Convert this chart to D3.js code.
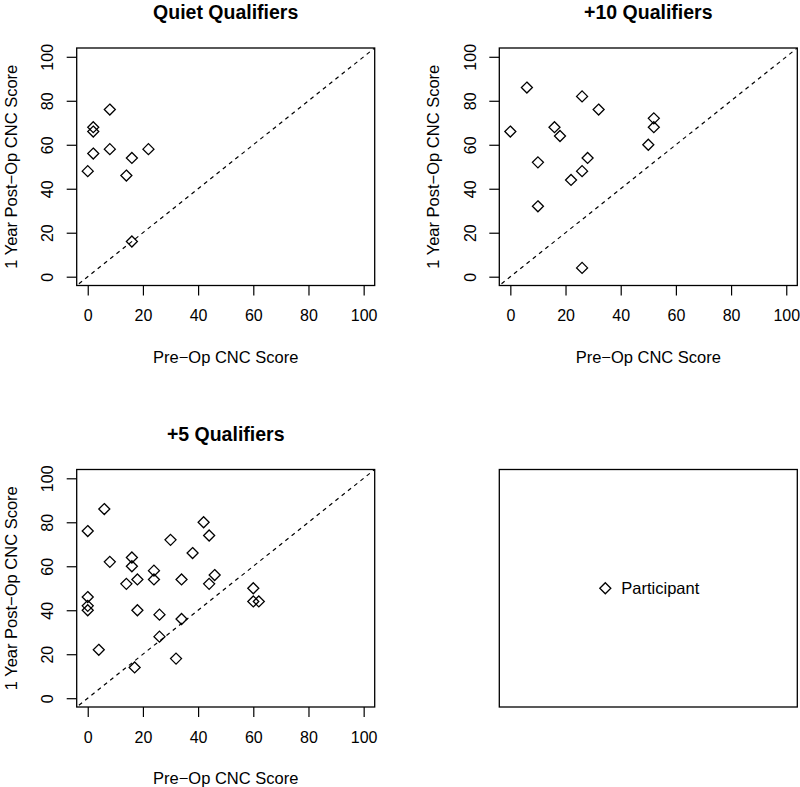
<!DOCTYPE html>
<html>
<head>
<meta charset="utf-8">
<script src="https://cdn.jsdelivr.net/npm/d3@7"></script>
<style>
  html, body { margin: 0; padding: 0; background: #fff; }
  text { font-family: "Liberation Sans", Arial, Helvetica, sans-serif; fill: #000; }
</style>
</head>
<body>
<svg id="chart" width="800" height="787"></svg>
<script>
// ---------------- data ----------------
const panelTitles = ["Quiet Qualifiers", "+10 Qualifiers", "+5 Qualifiers"];
const xAxisLabel = "Pre\u2212Op CNC Score";
const yAxisLabel = "1 Year Post\u2212Op CNC Score";
const tickValues = [0, 20, 40, 60, 80, 100];
const legendLabel = "Participant";

const quietPre  = [8, 2, 2, 2, 8, 0, 16, 22, 14, 16];
const quietPost = [76, 68, 66, 56, 58, 48, 54, 58, 46, 16];

const plus10Pre  = [0, 6, 10, 10, 16, 18, 22, 26, 26, 26, 28, 32, 50, 52, 52];
const plus10Post = [66, 86, 52, 32, 68, 64, 44, 82, 48, 4, 54, 76, 60, 72, 68];

const plus5Pre  = [6, 0, 42, 44, 30, 38, 8, 16, 16, 24, 24, 18, 14, 34, 46, 44, 60, 60, 62, 0, 0, 0, 18, 26, 34, 26, 4, 32, 17];
const plus5Post = [86, 76, 80, 74, 72, 66, 62, 64, 60, 58, 54, 54, 52, 54, 56, 52, 50, 44, 44, 46, 42, 40, 40, 38, 36, 28, 22, 18, 14];

const seriesPre  = [quietPre, plus10Pre, plus5Pre];
const seriesPost = [quietPost, plus10Post, plus5Post];

// ---------------- layout ----------------
const svg = d3.select("#chart");
const boxW = 298, boxH = 237.5;
const panelPos = [
  { left: 76.7, top: 48 },
  { left: 499.3, top: 48 },
  { left: 76.7, top: 469.5 }
];
const legendPos = { left: 499.3, top: 469.5 };
const tickFont = 16, labelFont = 16.5, titleFont = 19.5;

function diamondPath(cx, cy, r) {
  return `M${cx},${cy - r}L${cx + r},${cy}L${cx},${cy + r}L${cx - r},${cy}Z`;
}

panelPos.forEach((p, i) => {
  const g = svg.append("g");
  const x = d3.scaleLinear().domain([-4, 104]).range([p.left, p.left + boxW]);
  const y = d3.scaleLinear().domain([-4, 104]).range([p.top + boxH, p.top]);

  const clipId = "clip" + i;
  svg.append("clipPath").attr("id", clipId)
    .append("rect").attr("x", p.left).attr("y", p.top).attr("width", boxW).attr("height", boxH);

  // x axis
  const xa = g.append("g").attr("transform", `translate(0,${p.top + boxH})`)
    .call(d3.axisBottom(x).tickValues(tickValues).tickSize(10).tickFormat(d3.format("d")));
  xa.select(".domain").remove();
  xa.selectAll(".tick line").attr("stroke", "#000").attr("stroke-width", 1.2);
  xa.selectAll(".tick text").attr("font-size", tickFont).attr("fill", "#000")
    .attr("font-family", "Liberation Sans, Arial, sans-serif")
    .attr("y", 30).attr("dy", null).attr("dominant-baseline", "central");

  // y axis
  const ya = g.append("g").attr("transform", `translate(${p.left},0)`)
    .call(d3.axisLeft(y).tickValues(tickValues).tickSize(10).tickFormat(d3.format("d")));
  ya.select(".domain").remove();
  ya.selectAll(".tick line").attr("stroke", "#000").attr("stroke-width", 1.2);
  ya.selectAll(".tick text")
    .attr("font-size", tickFont).attr("fill", "#000")
    .attr("font-family", "Liberation Sans, Arial, sans-serif")
    .attr("x", 0).attr("dy", null)
    .attr("text-anchor", "middle")
    .attr("dominant-baseline", "central")
    .attr("transform", "translate(-29,0) rotate(-90)");

  // box
  g.append("rect").attr("x", p.left).attr("y", p.top).attr("width", boxW).attr("height", boxH)
    .attr("fill", "none").attr("stroke", "#000").attr("stroke-width", 1.3);

  // identity line
  g.append("line").attr("clip-path", `url(#${clipId})`)
    .attr("x1", x(-10)).attr("y1", y(-10)).attr("x2", x(110)).attr("y2", y(110))
    .attr("stroke", "#000").attr("stroke-width", 1.2).attr("stroke-dasharray", "4,4");

  // points
  const pts = seriesPre[i].map((v, k) => ({ px: v, py: seriesPost[i][k] }));
  g.selectAll("path.pt").data(pts).enter().append("path").attr("class", "pt")
    .attr("d", d => diamondPath(x(d.px), y(d.py), 5.5))
    .attr("fill", "none").attr("stroke", "#000").attr("stroke-width", 1.3);

  // title
  g.append("text").attr("x", p.left + boxW / 2).attr("y", p.top - 36)
    .attr("text-anchor", "middle").attr("dominant-baseline", "central")
    .attr("font-weight", "bold").attr("font-size", titleFont).text(panelTitles[i]);

  // axis labels
  g.append("text").attr("x", p.left + boxW / 2).attr("y", p.top + boxH + 71)
    .attr("text-anchor", "middle").attr("dominant-baseline", "central")
    .attr("font-size", labelFont).text(xAxisLabel);
  g.append("text")
    .attr("transform", `translate(${p.left - 66},${p.top + boxH / 2}) rotate(-90)`)
    .attr("text-anchor", "middle").attr("dominant-baseline", "central")
    .attr("font-size", labelFont).text(yAxisLabel);
});

// legend panel
const lg = svg.append("g");
lg.append("rect").attr("x", legendPos.left).attr("y", legendPos.top).attr("width", boxW).attr("height", boxH)
  .attr("fill", "none").attr("stroke", "#000").attr("stroke-width", 1.3);
const lcx = legendPos.left + boxW / 2, lcy = legendPos.top + boxH / 2;
lg.append("path").attr("d", diamondPath(lcx - 43, lcy, 5.5))
  .attr("fill", "none").attr("stroke", "#000").attr("stroke-width", 1.3);
lg.append("text").attr("x", lcx - 27).attr("y", lcy).attr("dominant-baseline", "central")
  .attr("font-size", labelFont).text(legendLabel);
</script>
</body>
</html>
